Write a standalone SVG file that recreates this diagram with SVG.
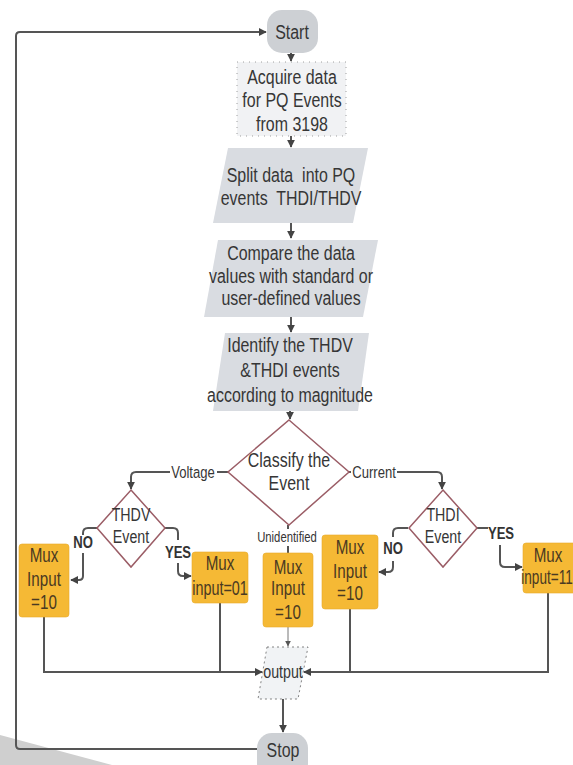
<svg xmlns="http://www.w3.org/2000/svg" width="573" height="765" viewBox="0 0 573 765">
<style>
text{font-family:"Liberation Sans",Arial,sans-serif;fill:#363636;text-anchor:middle;white-space:pre}
.t19{font-size:21px}
.t17{font-size:18.5px}
.t16{font-size:17px}
.t13{font-size:14.5px}
.b{font-weight:bold;fill:#333}
.mux{fill:#f5b935;stroke:#e8a92a;stroke-width:0.6}
.mt{font-size:20px;fill:#4a3a22}
.dia{fill:#fff;stroke:#9b5d66;stroke-width:1.5}
.par{fill:#d9dce1}
.term{fill:#cdd0d4}
.c{fill:none;stroke:#555;stroke-width:2}
.thin{fill:none;stroke:#777;stroke-width:1}
</style>
<defs>
<marker id="ah" viewBox="0 0 10 10" refX="9" refY="5" markerWidth="4" markerHeight="4" orient="auto" markerUnits="strokeWidth">
<path d="M0,0 L10,5 L0,10 z" fill="#444"/>
</marker>
<marker id="ahs" viewBox="0 0 10 10" refX="9" refY="5" markerWidth="6" markerHeight="6" orient="auto" markerUnits="strokeWidth">
<path d="M0,0 L10,5 L0,10 z" fill="#555"/>
</marker>
</defs>
<rect width="573" height="765" fill="#fff"/>
<polygon points="0,735 112,765 0,765" fill="#cfcfcf"/>

<g id="connectors">
<path class="c" d="M258,749 H20 Q16,749 16,745 V36 Q16,32 20,32 H266" marker-end="url(#ah)"/>
<path class="c" d="M291,53 V61" marker-end="url(#ah)"/>
<path class="c" d="M291,136 V147" marker-end="url(#ah)"/>
<path class="c" d="M291,223 V238" marker-end="url(#ah)"/>
<path class="c" d="M291,317 V332" marker-end="url(#ah)"/>
<path class="c" d="M290,411 V419" marker-end="url(#ah)"/>
<path class="c" d="M228,472 H217"/>
<path class="c" d="M170,472 H136 Q131,472 131,477 V489" marker-end="url(#ah)"/>
<path class="c" d="M348,472 H351"/>
<path class="c" d="M397,472 H437 Q442,472 442,477 V489" marker-end="url(#ah)"/>
<path class="c" d="M97,528 H88 Q83,528 83,533 V535"/>
<path class="c" d="M83,553 V576 Q83,580 79,580 H71" marker-end="url(#ah)"/>
<path class="c" d="M165,528 H173 Q178,528 178,533 V540"/>
<path class="c" d="M178,563 V571 Q178,576 183,576 H191" marker-end="url(#ah)"/>
<path class="c" d="M288,525 V529"/>
<path class="c" d="M288,546 V553"/>
<path class="c" d="M408,528 H398 Q393,528 393,533 V537"/>
<path class="c" d="M393,561 V567 Q393,572 388,572 H379" marker-end="url(#ah)"/>
<path class="c" d="M477,528 H488"/>
<path class="c" d="M500,545 V562 Q500,567 505,567 H522" marker-end="url(#ah)"/>
<path class="c" d="M44,617 V672 H262" marker-end="url(#ah)"/>
<path class="c" d="M220,603 V671"/>
<path class="c" d="M214,672 H226"/>
<path class="c" d="M350,609 V671"/>
<path class="c" d="M344,672 H356"/>
<path class="c" d="M548,593 V672 H304" marker-end="url(#ah)"/>
<path class="thin" d="M288,627 V646" marker-end="url(#ahs)"/>
<path class="c" d="M283,699 V732" marker-end="url(#ah)"/>
<text class="t16" transform="translate(193,0) scale(0.77,1)" y="478">Voltage</text>
<text class="t16" transform="translate(374,0) scale(0.77,1)" y="478">Current</text>
<text class="t16 b" transform="translate(83,0) scale(0.77,1)" y="548">NO</text>
<text class="t16 b" transform="translate(178,0) scale(0.77,1)" y="558">YES</text>
<text class="t16 b" transform="translate(393,0) scale(0.77,1)" y="554">NO</text>
<text class="t16 b" transform="translate(501,0) scale(0.77,1)" y="539">YES</text>
<text class="t13" transform="translate(287,0) scale(0.78,1)" y="542">Unidentified</text>
</g>

<g id="start">
<rect class="term" x="267" y="10" width="51" height="43" rx="15"/>
<text class="t19" transform="translate(292,0) scale(0.76,1)" y="39">Start</text>
</g>

<g id="acquire">
<rect x="237" y="62" width="109" height="74" fill="#f1f2f4" stroke="#888" stroke-width="0.8" stroke-dasharray="1 5"/>
<text class="t19" transform="translate(292,0) scale(0.76,1)" y="84">Acquire data</text>
<text class="t19" transform="translate(292,0) scale(0.76,1)" y="107">for PQ Events</text>
<text class="t19" transform="translate(292,0) scale(0.76,1)" y="131">from 3198</text>
</g>

<g id="split">
<polygon class="par" points="228,148 368,148 353,223 213,223"/>
<text class="t19" transform="translate(291,0) scale(0.76,1)" y="182">Split data  into PQ</text>
<text class="t19" transform="translate(291,0) scale(0.76,1)" y="205">events  THDI/THDV</text>
</g>

<g id="compare">
<polygon class="par" points="218,240 378,240 363,317 204,317"/>
<text class="t19" transform="translate(291,0) scale(0.76,1)" y="260">Compare the data</text>
<text class="t19" transform="translate(291,0) scale(0.76,1)" y="283">values with standard or</text>
<text class="t19" transform="translate(291,0) scale(0.76,1)" y="305">user-defined values</text>
</g>

<g id="identify">
<polygon class="par" points="225,333 369,333 358,411 213,411"/>
<text class="t19" transform="translate(290,0) scale(0.76,1)" y="352">Identify the THDV</text>
<text class="t19" transform="translate(290,0) scale(0.76,1)" y="377">&amp;THDI events</text>
<text class="t19" transform="translate(290,0) scale(0.76,1)" y="402">according to magnitude</text>
</g>

<g id="classify">
<polygon class="dia" points="289,420 349,472 289,525 228,472"/>
<text class="t19" transform="translate(289,0) scale(0.76,1)" y="467">Classify the</text>
<text class="t19" transform="translate(289,0) scale(0.76,1)" y="490">Event</text>
</g>

<g id="thdv">
<polygon class="dia" points="131,490 165,528 131,567 97,528"/>
<text class="t17" transform="translate(131,0) scale(0.77,1)" y="521">THDV</text>
<text class="t17" transform="translate(131,0) scale(0.77,1)" y="543">Event</text>
</g>

<g id="thdi">
<polygon class="dia" points="443,490 477,528 443,567 409,528"/>
<text class="t17" transform="translate(443,0) scale(0.77,1)" y="521">THDI</text>
<text class="t17" transform="translate(443,0) scale(0.77,1)" y="543">Event</text>
</g>

<g id="mux-left">
<rect class="mux" x="19" y="544" width="50" height="73" rx="3"/>
<text class="mt" transform="translate(44,0) scale(0.76,1)" y="562">Mux</text>
<text class="mt" transform="translate(44,0) scale(0.76,1)" y="586">Input</text>
<text class="mt" transform="translate(44,0) scale(0.76,1)" y="609">=10</text>
</g>

<g id="mux-01">
<rect class="mux" x="192" y="552" width="56" height="51" rx="3"/>
<text class="mt" transform="translate(220,0) scale(0.76,1)" y="570">Mux</text>
<text class="mt" transform="translate(220,0) scale(0.72,1)" y="595">input=01</text>
</g>

<g id="mux-unid">
<rect class="mux" x="263" y="553" width="50" height="74" rx="3"/>
<text class="mt" transform="translate(288,0) scale(0.76,1)" y="574">Mux</text>
<text class="mt" transform="translate(288,0) scale(0.76,1)" y="595">Input</text>
<text class="mt" transform="translate(288,0) scale(0.76,1)" y="619">=10</text>
</g>

<g id="mux-thdi-no">
<rect class="mux" x="322" y="535" width="56" height="74" rx="3"/>
<text class="mt" transform="translate(350,0) scale(0.76,1)" y="554">Mux</text>
<text class="mt" transform="translate(350,0) scale(0.76,1)" y="578">Input</text>
<text class="mt" transform="translate(350,0) scale(0.76,1)" y="600">=10</text>
</g>

<g id="mux-11">
<rect class="mux" x="523" y="543" width="54" height="50" rx="3"/>
<text class="mt" transform="translate(548,0) scale(0.76,1)" y="562">Mux</text>
<text class="mt" transform="translate(547,0) scale(0.68,1)" y="584">input=11</text>
</g>

<g id="output">
<polygon points="267,647 308,647 298,699 258,699" fill="#f1f3f5" stroke="#666" stroke-width="0.8" stroke-dasharray="2 3"/>
<text class="t17" transform="translate(283,0) scale(0.77,1)" y="678">output</text>
</g>

<g id="stop">
<rect class="term" x="257" y="733" width="51" height="45" rx="15"/>
<text class="t19" transform="translate(283,0) scale(0.76,1)" y="757">Stop</text>
</g>
</svg>
